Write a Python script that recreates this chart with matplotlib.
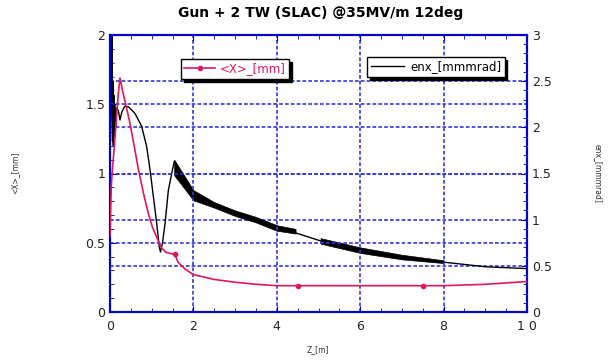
import matplotlib
matplotlib.use("Agg")
import matplotlib.pyplot as plt
from matplotlib.ticker import MultipleLocator

# ---- data ----
z_x = [0, 0.03, 0.05, 0.1, 0.15, 0.2, 0.24, 0.3, 0.4, 0.48, 0.58, 0.68, 0.8, 0.92, 1.02,
       1.12, 1.24, 1.35, 1.48, 1.55, 1.63, 1.8, 2.0, 2.5, 3.0, 3.5, 4.0,
       4.5, 5.0, 6.0, 7.0, 7.5, 8.0, 9.0, 10.0]
x_mm = [0.55, 0.9, 1.0, 1.18, 1.38, 1.58, 1.69, 1.6, 1.47, 1.36, 1.2, 1.03, 0.86, 0.71, 0.61,
        0.54, 0.46, 0.43, 0.42, 0.42, 0.36, 0.31, 0.27, 0.235, 0.215, 0.2, 0.19,
        0.19, 0.19, 0.19, 0.19, 0.19, 0.19, 0.2, 0.22]
z_markers = [1.55, 4.5, 7.5]
x_markers = [0.42, 0.19, 0.19]

z_en = [0, 0.02, 0.04, 0.05, 0.06, 0.07, 0.08, 0.09, 0.1, 0.12, 0.14, 0.16, 0.2, 0.24, 0.28,
        0.32, 0.36, 0.45, 0.6, 0.76, 0.88, 0.96, 1.04, 1.12, 1.18, 1.21, 1.26, 1.32, 1.4,
        1.48, 1.54, 2.0, 2.5, 3.0, 3.5, 4.0, 4.5, 5.05, 6.0, 7.0, 8.0, 9.0, 10.0]
enx = [1.8, 2.1, 2.6, 3.0, 1.85, 2.5, 1.8, 2.35, 1.9, 2.25, 2.0, 2.21, 2.18, 2.08, 2.16,
       2.2, 2.23, 2.22, 2.15, 2.01, 1.79, 1.54, 1.25, 0.96, 0.71, 0.65, 0.75, 0.96, 1.32,
       1.5, 1.63, 1.27, 1.16, 1.07, 1.0, 0.91, 0.85, 0.77, 0.67, 0.59, 0.54, 0.49, 0.47]

band1_z = [1.54, 2.0, 2.5, 3.0, 3.5, 4.0, 4.45]
band1_lo = [1.48, 1.21, 1.13, 1.04, 0.97, 0.88, 0.85]
band1_hi = [1.65, 1.32, 1.19, 1.10, 1.03, 0.94, 0.90]
band2_z = [5.05, 6.0, 7.0, 8.0]
band2_lo = [0.74, 0.64, 0.57, 0.53]
band2_hi = [0.80, 0.70, 0.62, 0.56]

title = "Gun + 2 TW (SLAC) @35MV/m 12deg"
xticks = [0, 2, 4, 6, 8, 10]
xticklabels = ["0", "2", "4", "6", "8", "1 0"]
yl_ticks = [0, 0.5, 1, 1.5, 2]
yl_labels = ["0", "0.5", "1", "1.5", "2"]
yr_ticks = [0, 0.5, 1, 1.5, 2, 2.5, 3]
yr_labels = ["0", "0.5", "1", "1.5", "2", "2.5", "3"]

BLUE = "#0000d0"
RED = "#e0185a"
GRID = dict(color="#3535e0", linestyle=(0, (2.2, 1.3)), linewidth=1.2)

fig = plt.figure(figsize=(6.11, 3.6), dpi=100)
ax = fig.add_axes([110/611, 1-312/360, 417/611, 277/360])
ax2 = ax.twinx()
ax.set_zorder(ax2.get_zorder() + 1)
ax.patch.set_visible(False)

ax.set_xlim(0, 10)
ax.set_ylim(0, 2)
ax2.set_ylim(0, 3)

ax.set_xticks(xticks)
ax.set_xticklabels(xticklabels)
ax.set_yticks(yl_ticks)
ax.set_yticklabels(yl_labels)
ax2.set_yticks(yr_ticks)
ax2.set_yticklabels(yr_labels)
ax.xaxis.set_minor_locator(MultipleLocator(0.5))
ax.yaxis.set_minor_locator(MultipleLocator(0.1))
ax2.yaxis.set_minor_locator(MultipleLocator(0.1))
ax2.yaxis.grid(True, **GRID)
ax.yaxis.grid(True, **GRID)
ax.xaxis.grid(True, **GRID)
ax.set_axisbelow(True)
ax2.set_axisbelow(True)

# black emittance
ln_en, = ax2.plot(z_en, enx, color="black", lw=1.0, zorder=3)
ax2.fill_between(band1_z, band1_lo, band1_hi, color="black", lw=0.5, zorder=3)
ax2.fill_between(band2_z, band2_lo, band2_hi, color="black", lw=0.5, zorder=3)

# red <X>
ax.plot(z_x, x_mm, color=RED, lw=1.2, zorder=4)
ax.plot(z_markers, x_markers, 'o', color=RED, ms=3, zorder=4)
ln_x, = ax.plot([], [], color=RED, lw=1.2, marker='o', ms=3, markevery=[1])

for a in (ax, ax2):
    for s in a.spines.values():
        s.set_color(BLUE)
        s.set_linewidth(1.5)
ax.tick_params(axis='both', which='both', direction='in', color=BLUE,
               labelcolor='#222222', labelsize=9, top=True)
ax.tick_params(which='major', length=4)
ax.tick_params(which='minor', length=3)
ax.tick_params(axis='x', pad=6)
ax2.tick_params(axis='y', which='both', direction='in', color=BLUE,
                labelcolor='#222222', labelsize=9)
ax2.tick_params(which='major', length=4)
ax2.tick_params(which='minor', length=3)

fig.text(0.525, 1-13/360, title, ha='center', va='center', fontsize=10, fontweight='bold')
fig.text(318/611, 1-350/360, "Z_[m]", ha='center', va='center', fontsize=5.5, color='#333333')
fig.text(15/611, 1-173/360, "<X>_[mm]", ha='center', va='center', rotation=90,
         fontsize=5.5, color='#333333')
fig.text(598/611, 1-173/360, "enx_[mmmrad]", ha='center', va='center', rotation=270,
         fontsize=5.5, color='#333333')

shadow = {'color': 'black', 'alpha': 1.0}
leg1 = ax.legend([ln_x], ["<X>_[mm]"], loc='center',
                 bbox_to_anchor=(235/611, 1-69/360), bbox_transform=fig.transFigure,
                 fontsize=8.5, frameon=True, fancybox=False, shadow=shadow,
                 handlelength=2.6, borderpad=0.3, handletextpad=0.4,
                 borderaxespad=0, labelcolor=RED)
leg1.get_frame().set_edgecolor('black')
leg1.get_frame().set_linewidth(1.0)
ax.add_artist(leg1)
leg2 = ax.legend([ln_en], ["enx_[mmmrad]"], loc='center',
                 bbox_to_anchor=(436/611, 1-67/360), bbox_transform=fig.transFigure,
                 fontsize=8.5, frameon=True, fancybox=False, shadow=shadow,
                 handlelength=2.8, borderpad=0.3, handletextpad=0.5,
                 borderaxespad=0)
leg2.get_frame().set_edgecolor('black')
leg2.get_frame().set_linewidth(1.0)

fig.savefig("out.png", dpi=100)
